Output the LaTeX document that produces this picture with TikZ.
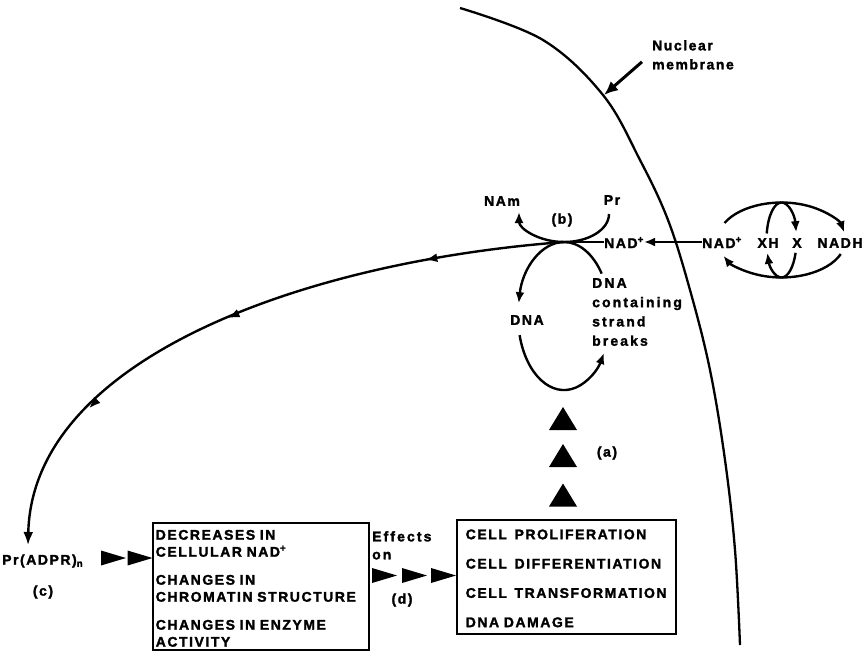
\documentclass[tikz,border=0pt]{standalone}
\usepackage{fontspec}
\newfontfamily\labfont{Liberation Sans}[LetterSpace=11, BoldFeatures={FakeBold=1.8}]
\newfontfamily\widefont{Liberation Sans}[LetterSpace=15, BoldFeatures={FakeBold=1.8}]
\usetikzlibrary{arrows.meta,decorations.markings}

\tikzset{
  lbl/.style={font=\labfont\bfseries\fontsize{14}{16}\selectfont, inner sep=0pt},
  wlbl/.style={font=\widefont\bfseries\fontsize{14}{19.3}\selectfont, inner sep=0pt, align=left},
  curve/.style={line width=2.4pt},
  tip/.style={-{Latex[length=11pt,width=9pt]}},
  effbox/.style={draw, line width=1.5pt, rectangle, align=left, inner ysep=0pt},
  rtri/.pic={\fill (-12.5,-7.5) -- (12.5,0) -- (-12.5,7.5) -- cycle;},
  utri/.pic={\fill (-14,11.5) -- (0,-11.5) -- (14,11.5) -- cycle;},
  smallhead/.style={decoration={markings,
      mark=at position 0.21 with {\arrow{Latex[length=12pt,width=9pt]}},
      mark=at position 0.52 with {\arrow{Latex[length=12pt,width=9pt]}},
      mark=at position 0.77 with {\arrow{Latex[length=12pt,width=9pt]}}},
    postaction={decorate}},
}

\begin{document}
\begin{tikzpicture}[x=1pt,y=-1pt]
\useasboundingbox (0,0) rectangle (868,659);

% nuclear membrane
\draw[line width=2.3pt] plot[smooth, tension=0.6] coordinates
  {(460,8) (543,40) (603,95) (640,160) (668,220) (690,290) (710,370) (725,460) (735,550) (740,645)};
\node[lbl, align=left, anchor=north west, font=\labfont\bfseries\fontsize{14}{19}\selectfont] (memb) at (652,40) {Nuclear\\membrane};
\coordinate (mtip) at (604,95);
\draw[line width=3pt, -{Latex[length=14pt,width=12pt]}] ([shift={(-10,7)}]memb.west) -- (mtip);

% poly(ADP-ribose) synthesis at the strand break
\coordinate (J) at (564,242);
\node[lbl] (nam) at (502,201) {NAm};
\node[lbl] (pr) at (612,200) {Pr};
\node[lbl] (b) at (562,220) {(b)};
\node[lbl, anchor=base west] (nad1) at (604,248) {NAD\textsuperscript{+}};
\draw[curve, tip] (J) arc[start angle=90, end angle=180, x radius=45, y radius=30];
\coordinate (prb) at (609,214);
\draw[curve] (prb) arc[start angle=0, end angle=90, x radius=45, y radius=28];
\draw[curve] (J) -- (J -| nad1.west);

% NAD+ regeneration cycle
\node[lbl, anchor=base west] (nad2) at (702,248) {NAD\textsuperscript{+}};
\node[lbl] (xh) at (768,243) {XH};
\node[lbl] (x) at (797,243) {X};
\node[lbl] (nadh) at (840,243) {NADH};
\draw[curve, tip] (nad2.west |- J) -- (nad1.east |- J);
\coordinate (o1) at (724.5,223);
\coordinate (o2) at (840.8,254);
\coordinate (T) at (781.5,202.5);
\coordinate (B) at (781.5,277.5);
\draw[curve, tip] (o1) arc[start angle=-153, end angle=-12, x radius=64, y radius=37.5];
\draw[curve, tip] (o2) arc[start angle=22, end angle=155, x radius=64, y radius=37.5];
\draw[curve] (T) arc[start angle=-90, end angle=-170, x radius=15, y radius=37.5];
\draw[curve, tip] (T) arc[start angle=-90, end angle=-12, x radius=15, y radius=37.5];
\draw[curve, tip] (B) arc[start angle=90, end angle=160, x radius=15, y radius=37.5];
\draw[curve] (B) arc[start angle=90, end angle=20, x radius=15, y radius=37.5];

% DNA loop
\node[lbl] (dna) at (527,320) {DNA};
\node[wlbl, anchor=north west] (brk) at (592,278) {DNA\\containing\\strand\\breaks};
\draw[curve, tip] (J) arc[start angle=-90, end angle=-170, x radius=46, y radius=74];
\draw[curve] (J) arc[start angle=-90, end angle=-35, x radius=46, y radius=74];
\coordinate (lb) at (519.6,335.2);
\draw[curve, tip] (lb) arc[start angle=165, end angle=30, x radius=46, y radius=74];

% (a)
\pic at (563,418.5) {utri};
\pic at (563,455.5) {utri};
\pic at (563,495) {utri};
\node[lbl] (a) at (607,453) {(a)};

% long path to Pr(ADPR)n
\node[lbl, anchor=west] (prad) at (2,561) {Pr(ADPR)\textsubscript{n}};
\node[lbl] (c) at (43,592) {(c)};
\coordinate (pend) at (28,545);
\draw[curve, -{Latex[length=13pt,width=10pt]}, smallhead] (J) .. controls (300,262) and (32,360) .. (pend);

% consequences
\pic at (113.5,558) {rtri};
\pic at (140,558) {rtri};
\node[effbox, text width=210pt, inner xsep=3pt, minimum height=127pt, anchor=north west,
      font=\labfont\bfseries\fontsize{14}{17}\selectfont] (box1) at (152,522)
  {\rule{0pt}{14pt}DECREASES IN\\ CELLULAR NAD\textsuperscript{+}\\[11pt]
   CHANGES IN\\ CHROMATIN STRUCTURE\\[11pt] CHANGES IN ENZYME\\ ACTIVITY};
\node[wlbl, anchor=north west, font=\widefont\bfseries\fontsize{14}{18}\selectfont] (eff) at (372,531) {Effects\\on};
\pic at (384.5,575.5) {rtri};
\pic at (414.5,575.5) {rtri};
\pic at (443.5,575.5) {rtri};
\node[lbl] (d) at (402,600) {(d)};
\node[effbox, text width=201pt, inner xsep=9pt, minimum height=114pt, anchor=north west,
      font=\labfont\bfseries\fontsize{14}{29.3}\selectfont] (box2) at (456,519)
  {\rule{0pt}{13pt}CELL\hspace{3pt} PROLIFERATION\\ CELL\hspace{3pt} DIFFERENTIATION\\
   CELL\hspace{3pt} TRANSFORMATION\\ DNA DAMAGE};
\end{tikzpicture}
\end{document}
